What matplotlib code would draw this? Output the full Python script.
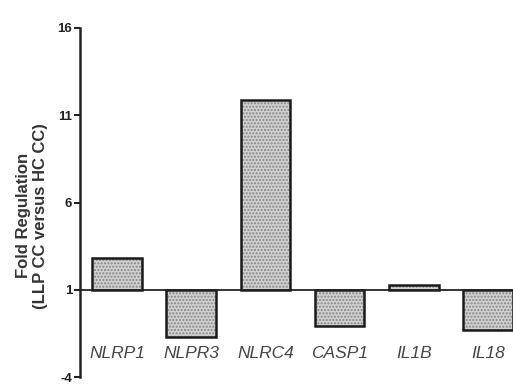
import matplotlib
matplotlib.use("Agg")
import matplotlib.pyplot as plt

genes = ["NLRP1", "NLPR3", "NLRC4", "CASP1", "IL1B", "IL18"]
fold_regulation = [2.8, -1.7, 11.9, -1.1, 1.3, -1.3]
yticks = [-4, 1, 6, 11, 16]
baseline = 1

plt.rcParams['font.family'] = ['Liberation Sans', 'DejaVu Sans']

fig = plt.figure(figsize=(5.13, 3.85), dpi=100)
ax = fig.add_axes([80/513, 8/385, 445/513, 349/385])

x = list(range(len(genes)))
heights = [v - baseline for v in fold_regulation]
ax.bar(x, heights, bottom=baseline, width=0.67, color='#d0d0d0',
       edgecolor='#858585', hatch='.....', linewidth=0, zorder=2)
ax.bar(x, heights, bottom=baseline, width=0.67, fill=False,
       edgecolor='#1a1a1a', linewidth=1.8, zorder=3)
ax.axhline(baseline, color='#222222', linewidth=1.3, zorder=4)

ax.set_xlim(-0.5, 5.5)
ax.set_ylim(-4, 16)
ax.set_yticks(yticks)
ax.set_yticklabels([str(t) for t in yticks], fontsize=9.5, fontweight='bold', color='#222222')
ax.set_xticks([])
for s in ['top', 'right', 'bottom']:
    ax.spines[s].set_visible(False)
ax.spines['left'].set_linewidth(1.8)
ax.spines['left'].set_color('#222222')
ax.tick_params(axis='y', direction='out', length=4, width=1.5, pad=1.5, colors='#222222')

for xi, g in zip(x, genes):
    ax.text(xi, -2.65, g, ha='center', va='center', fontsize=12.5,
            fontstyle='italic', color='#444444')

fig.text(0.062, 0.44, "Fold Regulation\n(LLP CC versus HC CC)", rotation=90,
         ha='center', va='center', fontsize=12, fontweight='bold',
         color='#333333', linespacing=1.15)

fig.savefig("out.png", dpi=100)
